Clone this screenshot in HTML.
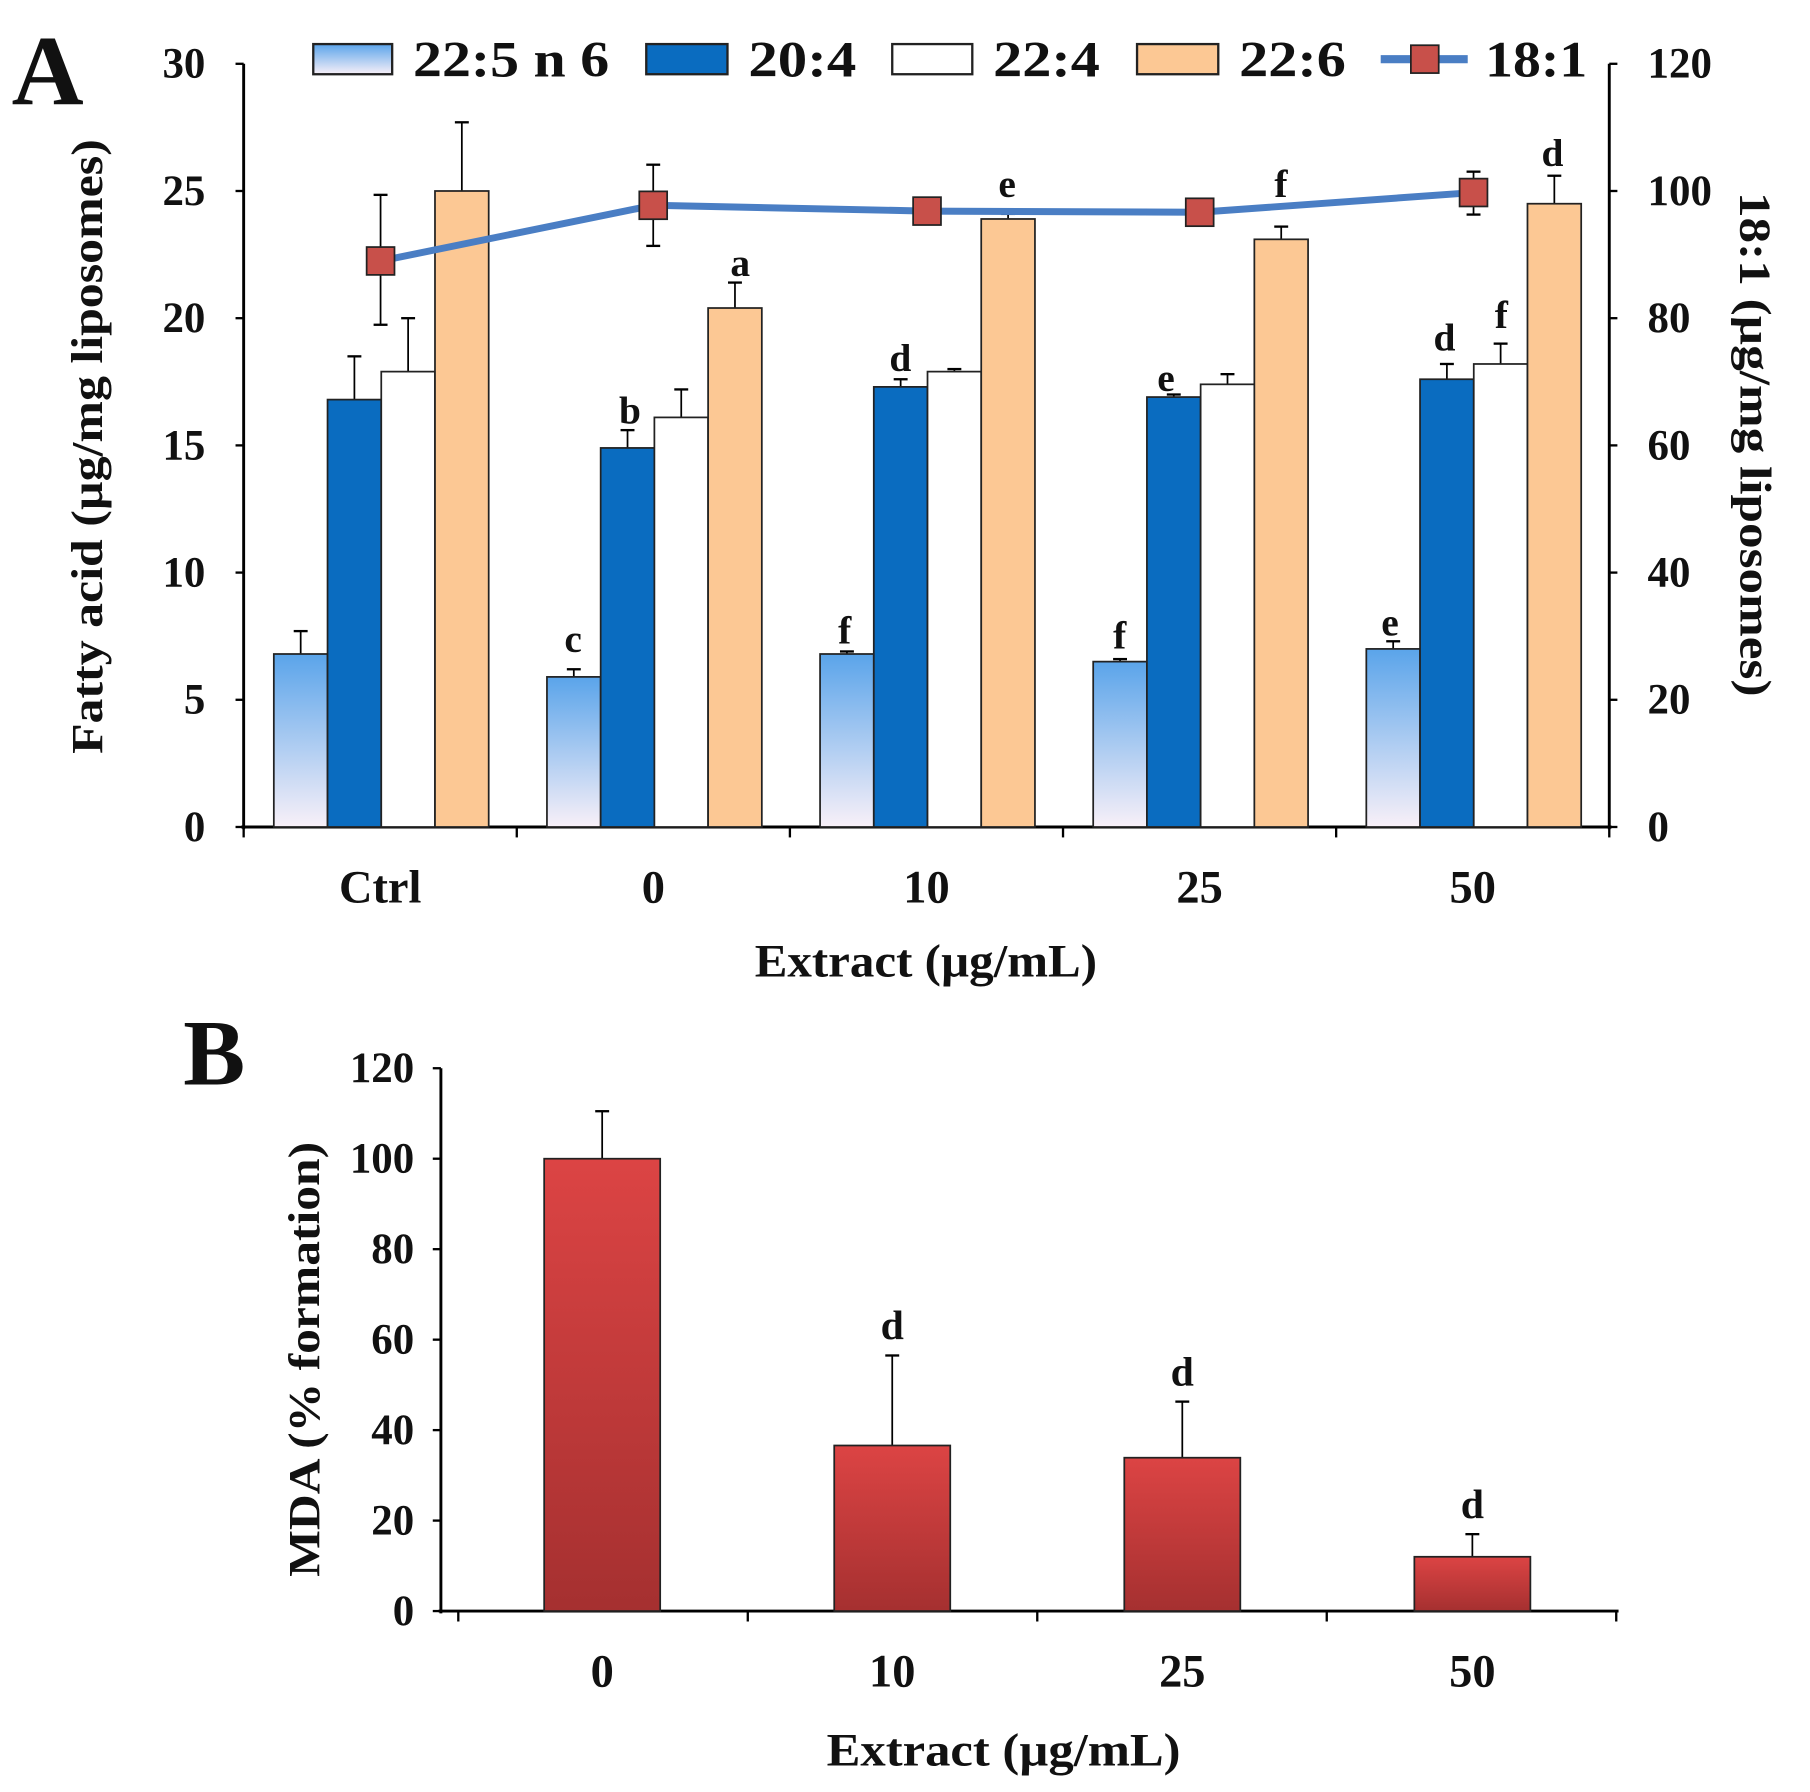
<!DOCTYPE html>
<html><head><meta charset="utf-8"><style>
html,body{margin:0;padding:0;background:#fff;}
svg{display:block;}
text{font-family:"Liberation Serif",serif;font-weight:bold;fill:#111;}
</style></head><body>
<svg id="s" width="1810" height="1792" viewBox="0 0 1560 1545" preserveAspectRatio="none" xmlns="http://www.w3.org/2000/svg">
<defs>
<linearGradient id="gb" x1="0" y1="0" x2="0" y2="1"><stop offset="0" stop-color="#5aa4ea"/><stop offset="1" stop-color="#f8f0f8"/></linearGradient>
<linearGradient id="gr" x1="0" y1="0" x2="0" y2="1"><stop offset="0" stop-color="#dc4444"/><stop offset="1" stop-color="#a53030"/></linearGradient>
</defs>
<g id="g"></g>
</svg>
<script>
var g=document.getElementById('g'),h='';
function L(x1,y1,x2,y2,w,c){h+='<line x1="'+x1+'" y1="'+y1+'" x2="'+x2+'" y2="'+y2+'" stroke="'+(c||'#000')+'" stroke-width="'+(w||2)+'"/>';}
function R(x,y,w,hh,f,sw){h+='<rect x="'+x+'" y="'+y+'" width="'+w+'" height="'+hh+'" fill="'+f+'" stroke="#222" stroke-width="'+(sw||1.5)+'"/>';}
function T(x,y,t,s,a,extra,tl){h+='<text x="'+x+'" y="'+y+'" font-size="'+s+'" text-anchor="'+(a||'middle')+'" '+(extra||'')+(tl?' textLength="'+tl+'" lengthAdjust="spacingAndGlyphs"':'')+'>'+t+'</text>';}
// Panel A
var y0=713,k=658/30;
function ya(v){return y0-v*k;}
L(210,55,210,715,2.5);L(1387,55,1387,715,2.5);L(208,713,1389,713,2.5);
for(var i=0;i<=6;i++){var y=ya(i*5);L(203,y,210,y);L(1387,y,1394,y);T(177,y+12,i*5,37,'end');T(1420,y+12,i*20,37,'start');}
for(var i=0;i<=5;i++){var x=210+i*235.4;L(x,713,x,722);}
var labs=['Ctrl','0','10','25','50'];
var data=[[[6.8,7.7],[16.8,18.5],[17.9,20.0],[25.0,27.7]],
[[5.9,6.2],[14.9,15.6],[16.1,17.2],[20.4,21.4]],
[[6.8,6.9],[17.3,17.6],[17.9,18.0],[23.9,24.1]],
[[6.5,6.6],[16.9,17.0],[17.4,17.8],[23.1,23.6]],
[[7.0,7.3],[17.6,18.2],[18.2,19.0],[24.5,25.6]]];
var fills=['url(#gb)','#0a6cc0','#ffffff','#fcc894'];
for(var gi=0;gi<5;gi++){var gx=210+gi*235.4;
 T(gx+117.7,778,labs[gi],40);
 for(var b=0;b<4;b++){var bx=gx+26+b*46.3,v=data[gi][b];
  var cx=bx+23.15;L(cx,ya(v[1]),cx,ya(v[0]),1.5);L(cx-6,ya(v[1]),cx+6,ya(v[1]),2);
  R(bx,ya(v[0]),46.3,y0-ya(v[0]),fills[b]);}}
T(798,842,'Extract (µg/mL)',40,'middle','',295);
T(88,385,'Fatty acid (µg/mg liposomes)',38,'middle','transform="rotate(-90 88 385)"',530);
T(1500,383,'18:1 (µg/mg liposomes)',38,'middle','transform="rotate(90 1500 383)"',435);
h+='<text x="10" y="90" font-size="86" style="font-weight:bold">A</text>';
[['c',494,562],['b',543,365],['a',638,238],['d',776,320],['e',868,170],['f',728,555],['e',1005,337],['f',1104,170],['f',965,559],['e',1198,548],['d',1245,302],['f',1294,283],['d',1338,143]].forEach(function(a){T(a[1],a[2],a[0],34);});
var pts=[[328,225],[563,177],[799,182],[1034,183],[1270,166]];
[[328,168,280],[563,142,212],[1270,148,185]].forEach(function(e){L(e[0],e[1],e[0],e[2],1.5);L(e[0]-6,e[1],e[0]+6,e[1],2);L(e[0]-6,e[2],e[0]+6,e[2],2);});
h+='<polyline points="'+pts.map(function(p){return p.join(',')}).join(' ')+'" fill="none" stroke="#4a7ec4" stroke-width="6"/>';
pts.forEach(function(p){R(p[0]-12,p[1]-12,24,24,'#c8504a',1.5);});
R(270,38,68,26,'url(#gb)',2);T(356,66,'22:5 n 6',44,'start','',169);
R(557,38,70,26,'#0a6cc0',2);T(645,66,'20:4',44,'start','',93);
R(769,38,69,26,'#fff',2);T(856,66,'22:4',44,'start','',92);
R(980,38,70,26,'#fcc894',2);T(1068,66,'22:6',44,'start','',92);
L(1190,51,1265,51,7,'#4a7ec4');R(1216,39,24,24,'#c8504a',1.5);T(1280,66,'18:1',44,'start','',88);
// Panel B
var b0=1389,kb=468/120;function yb(v){return b0-v*kb;}
L(380,921,380,1391,2.5);L(378,1389,1395,1389,2.5);
for(var i=0;i<=6;i++){var y=yb(i*20);L(373,y,380,y);T(357,y+12,i*20,37,'end');}
for(var i=0;i<5;i++){var x=395+i*249.5;L(x,1389,x,1398);}
var bd=[[100,110.5,''],[36.6,56.5,'d'],[33.9,46.3,'d'],[12,17,'d']],bl=['0','10','25','50'];
for(var i=0;i<4;i++){var cx=519+i*250,v=bd[i];
 L(cx,yb(v[1]),cx,yb(v[0]),1.5);L(cx-6,yb(v[1]),cx+6,yb(v[1]),2);
 R(cx-50,yb(v[0]),100,b0-yb(v[0]),'url(#gr)',1.5);
 if(v[2])T(cx,yb(v[1])-14,v[2],36);
 T(cx,1454,bl[i],40);}
T(865,1522,'Extract (µg/mL)',40,'middle','',305);
T(275,1172,'MDA (% formation)',38,'middle','transform="rotate(-90 275 1172)"',375);
h+='<text x="158" y="935" font-size="80" style="font-weight:bold">B</text>';
g.innerHTML=h;
</script>
</body></html>
